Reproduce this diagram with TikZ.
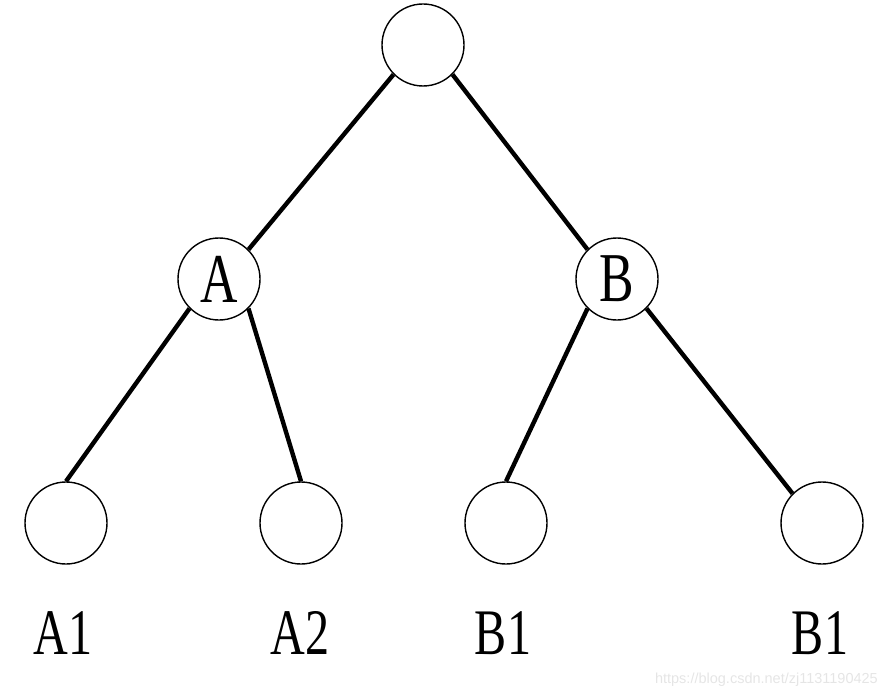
\documentclass[tikz,border=0pt]{standalone}
\usepackage{fontspec}
\setmainfont{Liberation Serif}
\newfontfamily\labelfont[FakeStretch=0.74]{Liberation Serif}
\newfontfamily\markfont{Liberation Sans}
\usepackage{tikz}
\usetikzlibrary{positioning}

\begin{document}
\begin{tikzpicture}[
    x=1pt, y=-1pt,
    vertex/.style={
        circle, draw=black, fill=white, line width=1.4pt,
        minimum size=82pt, inner sep=0pt,
        font=\labelfont\fontsize{70}{70}\selectfont
    },
    leaflabel/.style={anchor=base, inner sep=0pt, font=\labelfont\fontsize{65}{65}\selectfont},
    link/.style={line width=4.4pt}
]
    \useasboundingbox (0,0) rectangle (888,698);

    %% tree nodes
    \node[vertex] (root) at (423,45) {};
    \node[vertex] (a) at (219,279) {A};
    \node[vertex] (b) at (617,279) {B};
    \node[vertex] (aone) at (66,523) {};
    \node[vertex] (atwo) at (301,523) {};
    \node[vertex] (bone) at (506,523) {};
    \node[vertex] (btwo) at (822,523) {};

    %% labels under the leaves
    \node[leaflabel] (lblaone) at (63,654) {A1};
    \node[leaflabel] (lblatwo) at (300,654) {A2};
    \node[leaflabel] (lblbone) at (503,654) {B1};
    \node[leaflabel] (lblbtwo) at (820,654) {B1};

    \draw[link] (root.-135) -- (a.45);
    \draw[link] (root.-45) -- (b.135);
    \draw[link] (a.-135) -- (aone.north);
    \draw[link] (a.-45) -- (atwo.north);
    \draw[link] (b.-135) -- (bone.north);
    \draw[link] (b.-45) -- (btwo.135);

    %% watermark
    \node[anchor=east, text=black!10, inner sep=0pt, font=\markfont\fontsize{14.5}{14.5}\selectfont] (mark) at (878,680) {https://blog.csdn.net/zj1131190425};
\end{tikzpicture}
\end{document}
